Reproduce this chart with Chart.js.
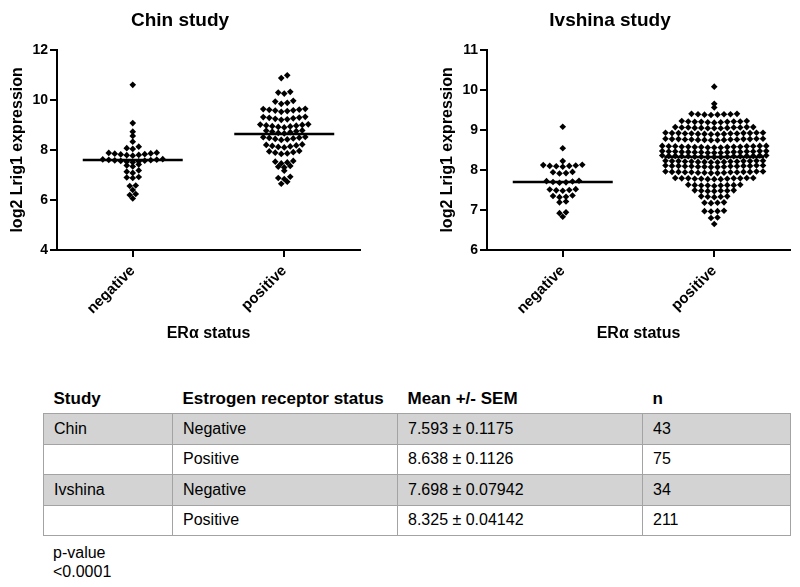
<!DOCTYPE html>
<html>
<head>
<meta charset="utf-8">
<script src="https://cdn.jsdelivr.net/npm/chart.js@4.4.0/dist/chart.umd.min.js"></script>
<style>
    body {
        margin: 0;
        width: 800px;
        height: 587px;
        position: relative;
        overflow: hidden;
        background: #fff;
        font-family: "Liberation Sans", Arial, sans-serif;
        color: #000;
    }
    .chart-box {
        position: absolute;
        top: 0;
        width: 370px;
        height: 355px;
    }
    #chinBox { left: 0; }
    #ivshinaBox { left: 430px; }
    #stats {
        position: absolute;
        left: 43px;
        top: 384px;
        width: 747px;
        border-collapse: collapse;
        table-layout: fixed;
        font-size: 16px;
    }
    #stats th {
        text-align: left;
        font-weight: bold;
        font-size: 17px;
        height: 29px;
        padding: 0 0 0 10px;
    }
    #stats td {
        height: 29.5px;
        padding: 0 0 0 10px;
        border: 1px solid #a3a3a3;
    }
    #stats tr.shade td { background: #d3d3d3; }
    #pvalue {
        position: absolute;
        left: 53px;
        top: 543px;
        font-size: 16px;
        line-height: 19px;
    }
</style>
</head>
<body>
<div class="chart-box" id="chinBox"><canvas id="chinChart"></canvas></div>
<div class="chart-box" id="ivshinaBox"><canvas id="ivshinaChart"></canvas></div>

<table id="stats">
    <colgroup><col style="width:129px"><col style="width:225px"><col style="width:245px"><col style="width:148px"></colgroup>
    <thead><tr id="statsHead"></tr></thead>
    <tbody id="statsBody"></tbody>
</table>
<div id="pvalue"></div>

<script>
// Categories
const groups = ['negative', 'positive'];

// Chin study - log2 Lrig1 expression per sample
const chinNegative = [
    10.6, 9.07, 8.73, 8.56, 8.33,
    8.13, 8.07, 8.04,
    7.89, 7.88, 7.86, 7.85, 7.83, 7.82, 7.80, 7.79, 7.77,
    7.63, 7.62, 7.61, 7.60, 7.59, 7.58, 7.57, 7.56, 7.54, 7.53, 7.51,
    7.42, 7.38, 7.34,
    7.18, 7.13, 7.08,
    6.92, 6.90, 6.88,
    6.58, 6.56,
    6.40,
    6.24, 6.20,
    6.06
];
const chinPositive = [
    10.98, 10.87,
    10.32, 10.29, 10.25,
    9.96, 9.93, 9.88, 9.84,
    9.64, 9.63, 9.61, 9.60, 9.58, 9.57, 9.55, 9.52,
    9.32, 9.31, 9.29, 9.28, 9.26, 9.24, 9.22, 9.20,
    9.02, 9.01, 9.00, 8.98, 8.97, 8.95, 8.94, 8.92, 8.90,
    8.78, 8.77, 8.75, 8.73, 8.71, 8.68, 8.66,
    8.52, 8.51, 8.49, 8.48, 8.46, 8.44, 8.42, 8.40,
    8.22, 8.20, 8.18, 8.16, 8.14, 8.12, 8.10,
    7.96, 7.94, 7.91, 7.89, 7.86, 7.84,
    7.56, 7.53, 7.50, 7.46,
    7.36, 7.33, 7.30,
    7.17,
    6.93, 6.88, 6.84,
    6.73, 6.65
];

// Ivshina study - log2 Lrig1 expression per sample
const ivshinaNegative = [
    9.08, 8.54, 8.22,
    8.13, 8.12, 8.11, 8.10, 8.10, 8.09, 8.08,
    7.95, 7.94, 7.92, 7.91,
    7.73, 7.72, 7.71, 7.70, 7.69, 7.68,
    7.52, 7.51, 7.50, 7.49, 7.48,
    7.36, 7.35, 7.33, 7.32,
    7.21, 7.19,
    6.94, 6.92,
    6.83
];
const ivshinaPositive = [
    10.08, 9.65, 9.56,
    9.40, 9.40, 9.39, 9.39, 9.39, 9.38, 9.38, 9.37,
    9.22, 9.22, 9.21, 9.21, 9.21, 9.20, 9.20, 9.20, 9.19, 9.19, 9.18,
    9.07, 9.07, 9.07, 9.06, 9.06, 9.06, 9.06, 9.05, 9.05, 9.05, 9.04, 9.04, 9.04,
    8.93, 8.93, 8.93, 8.92, 8.92, 8.92, 8.92, 8.91, 8.91, 8.91, 8.91, 8.90, 8.90, 8.90, 8.89, 8.89,
    8.78, 8.78, 8.78, 8.77, 8.77, 8.77, 8.77, 8.76, 8.76, 8.76, 8.76, 8.75, 8.75, 8.75, 8.74, 8.74,
    8.60, 8.60, 8.60, 8.59, 8.59, 8.59, 8.59, 8.58, 8.58, 8.58, 8.58, 8.57, 8.57, 8.57, 8.56, 8.56, 8.56,
    8.47, 8.47, 8.47, 8.46, 8.46, 8.46, 8.46, 8.45, 8.45, 8.45, 8.45, 8.44, 8.44, 8.44, 8.43, 8.43, 8.43,
    8.36, 8.36, 8.36, 8.35, 8.35, 8.35, 8.35, 8.34, 8.34, 8.34, 8.34, 8.33, 8.33, 8.33, 8.32, 8.32, 8.32,
    8.23, 8.23, 8.23, 8.22, 8.22, 8.22, 8.22, 8.21, 8.21, 8.21, 8.21, 8.20, 8.20, 8.20, 8.19, 8.19,
    8.11, 8.11, 8.11, 8.10, 8.10, 8.10, 8.10, 8.09, 8.09, 8.09, 8.09, 8.08, 8.08, 8.08, 8.07, 8.07,
    7.96, 7.96, 7.96, 7.95, 7.95, 7.95, 7.95, 7.94, 7.94, 7.94, 7.94, 7.93, 7.93, 7.93, 7.92, 7.92,
    7.80, 7.80, 7.80, 7.79, 7.79, 7.79, 7.79, 7.78, 7.78, 7.78, 7.77, 7.77, 7.77,
    7.63, 7.63, 7.62, 7.62, 7.62, 7.61, 7.61, 7.61, 7.60,
    7.49, 7.49, 7.48, 7.48, 7.48, 7.47, 7.47,
    7.34, 7.34, 7.33, 7.33, 7.32,
    7.19, 7.18, 7.18, 7.17,
    6.98, 6.97, 6.97, 6.96,
    6.81, 6.80,
    6.65
];

// Group means (horizontal lines)
const chinMeans = [7.593, 8.638];
const ivshinaMeans = [7.698, 8.325];

// Table
const tableHeader = ['Study', 'Estrogen receptor status', 'Mean +/- SEM', 'n'];
const tableStudy = ['Chin', '', 'Ivshina', ''];
const tableStatus = ['Negative', 'Positive', 'Negative', 'Positive'];
const tableMeanSem = ['7.593 \u00b1 0.1175', '8.638 \u00b1 0.1126', '7.698 \u00b1 0.07942', '8.325 \u00b1 0.04142'];
const tableN = ['43', '75', '34', '211'];
const pValueText = ['p-value', '<0.0001'];

const BIN_PX = 3.5;    // dots closer than this (vertically) share a row
const HALF_LINE = 0.33;

// Scatter dot plot layout: group dots into rows, spread each row sideways
function swarm(values, center, chart, dotW) {
    const ys = chart.scales.y;
    const xs = chart.scales.x;
    const unit = xs.width / (xs.max - xs.min);
    const sorted = [...values].sort((a, b) => b - a);
    const bins = [];
    let cur = null;
    sorted.forEach(v => {
        const py = ys.getPixelForValue(v);
        if (!cur || py - cur.start > BIN_PX + 0.01) {
            cur = { start: py, vals: [] };
            bins.push(cur);
        }
        cur.vals.push(v);
    });
    const out = [];
    bins.forEach(b => {
        const vals = b.vals.slice().sort((a, c) => a - c); // lowest in the middle
        const n = vals.length;
        const slots = [];
        for (let i = 0; i < n; i++) slots.push((i - (n - 1) / 2) * dotW);
        slots.sort((a, c) => Math.abs(a) - Math.abs(c) || a - c);
        vals.forEach((v, i) => out.push({ x: center + slots[i] / unit, y: v }));
    });
    return out;
}

function dotSet(values, center) {
    return {
        data: values.map(v => ({ x: center, y: v })),
        raw: values,
        center: center,
        pointStyle: 'rectRot',
        pointRadius: 3.3,
        pointBackgroundColor: '#000',
        pointBorderColor: '#000',
        pointBorderWidth: 0
    };
}

function meanSet(mean, center) {
    return {
        data: [{ x: center - HALF_LINE, y: mean }, { x: center + HALF_LINE, y: mean }],
        showLine: true,
        borderColor: '#000',
        borderWidth: 2.5,
        pointRadius: 0
    };
}

function makeChart(id, title, neg, pos, means, yMin, yMax, yStep, dotW) {
    const ctx = document.getElementById(id).getContext('2d');
    const chart = new Chart(ctx, {
        type: 'scatter',
        data: {
            datasets: [
                dotSet(neg, 0.5),
                dotSet(pos, 1.5),
                meanSet(means[0], 0.5),
                meanSet(means[1], 1.5)
            ]
        },
        options: {
            responsive: true,
            maintainAspectRatio: false,
            animation: false,
            layout: { padding: { right: 10, top: 0, bottom: 0, left: 0 } },
            plugins: {
                legend: { display: false },
                tooltip: { enabled: false },
                title: {
                    display: true,
                    text: title,
                    fullSize: true,
                    color: '#000',
                    font: { family: 'Arial', size: 19, weight: 'bold' },
                    padding: { top: 9, bottom: 18 }
                }
            },
            scales: {
                x: {
                    type: 'linear',
                    min: 0,
                    max: 2,
                    afterBuildTicks: (s) => { s.ticks = [{ value: 0.5 }, { value: 1.5 }]; },
                    afterFit: (s) => { s.height = 105; },
                    ticks: {
                        callback: (v, i) => groups[i],
                        maxRotation: 45,
                        minRotation: 45,
                        color: '#000',
                        padding: 5,
                        font: { family: 'Arial', size: 15, weight: 'bold' }
                    },
                    grid: { drawOnChartArea: false, drawTicks: true, tickLength: 7, color: '#000', lineWidth: 2 },
                    border: { display: true, color: '#000', width: 2 },
                    title: {
                        display: true,
                        text: 'ER\u03b1 status',
                        color: '#000',
                        font: { family: 'Arial', size: 16, weight: 'bold' },
                        padding: { top: 0, bottom: 12 }
                    }
                },
                y: {
                    min: yMin,
                    max: yMax,
                    afterFit: (s) => { s.width = 57; },
                    ticks: {
                        stepSize: yStep,
                        color: '#000',
                        padding: 2,
                        font: { family: 'Arial', size: 14, weight: 'bold' }
                    },
                    grid: { drawOnChartArea: false, drawTicks: true, tickLength: 7, color: '#000', lineWidth: 2 },
                    border: { display: true, color: '#000', width: 2 },
                    title: {
                        display: true,
                        text: 'log2 Lrig1 expression',
                        color: '#000',
                        font: { family: 'Arial', size: 16, weight: 'bold' },
                        padding: { top: 8, bottom: 0 }
                    }
                }
            }
        }
    });

    // spread dots once scales are known
    chart.data.datasets.slice(0, 2).forEach(ds => {
        ds.data = swarm(ds.raw, ds.center, chart, dotW);
    });
    chart.update('none');
    return chart;
}

makeChart('chinChart', 'Chin study', chinNegative, chinPositive, chinMeans, 4, 12, 2, 6);
makeChart('ivshinaChart', 'Ivshina study', ivshinaNegative, ivshinaPositive, ivshinaMeans, 6, 11, 1, 6.5);

// Build the table
const head = document.getElementById('statsHead');
tableHeader.forEach(h => {
    const th = document.createElement('th');
    th.textContent = h;
    head.appendChild(th);
});
const body = document.getElementById('statsBody');
tableStatus.forEach((status, i) => {
    const tr = document.createElement('tr');
    if (i % 2 === 0) tr.className = 'shade';
    [tableStudy[i], status, tableMeanSem[i], tableN[i]].forEach(txt => {
        const td = document.createElement('td');
        td.textContent = txt;
        tr.appendChild(td);
    });
    body.appendChild(tr);
});
document.getElementById('pvalue').innerHTML = pValueText.join('<br>');
</script>
</body>
</html>
